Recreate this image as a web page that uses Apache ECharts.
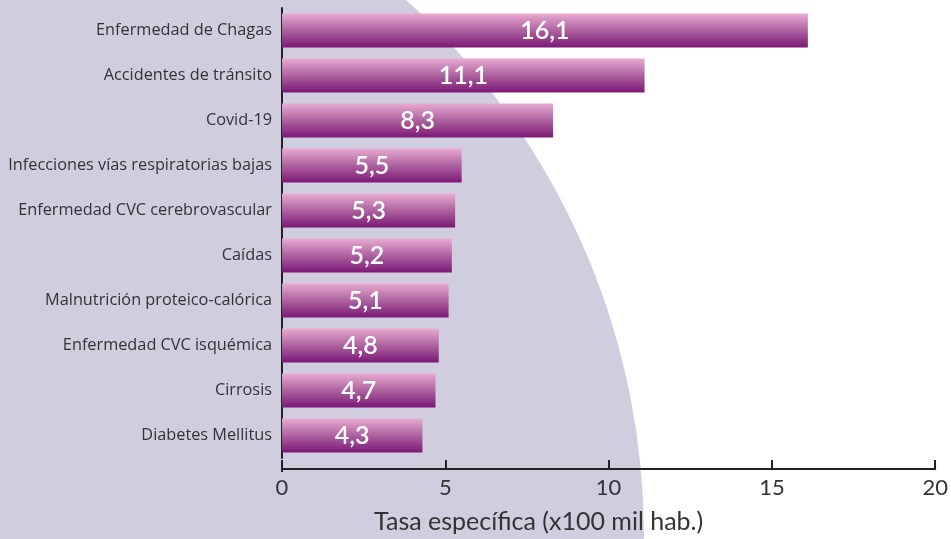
<!DOCTYPE html>
<html>
<head>
<meta charset="utf-8">
<script src="https://cdn.jsdelivr.net/npm/echarts@6/dist/echarts.min.js"></script>
<style>
  html, body { margin: 0; padding: 0; background: #fff; }
  #chart { width: 951px; height: 539px; }
</style>
</head>
<body>
<div id="chart"></div>
<script type="text/javascript">
// categorias (de arriba hacia abajo)
var causas = [
	'Enfermedad de Chagas',
	'Accidentes de tránsito',
	'Covid-19',
	'Infecciones vías respiratorias bajas',
	'Enfermedad CVC cerebrovascular',
	'Caídas',
	'Malnutrición proteico-calórica',
	'Enfermedad CVC isquémica',
	'Cirrosis',
	'Diabetes Mellitus'
];
// tasa especifica x100 mil hab.
var tasas = [16.1, 11.1, 8.3, 5.5, 5.3, 5.2, 5.1, 4.8, 4.7, 4.3];
// eje x
var ejeMin = 0;
var ejeMax = 20;
var ejeIntervalo = 5;

var myChart = echarts.init(document.getElementById('chart'));

var option = {
	textStyle: { fontFamily: 'Lato' },
	graphic: [
		// fondo: circulo gris lila a la izquierda
		{
			type: 'circle',
			z: -10,
			silent: true,
			shape: { cx: -81, cy: 537, r: 725 },
			style: { fill: '#cfcdde' }
		},
		// tramo del eje y hasta el eje x
		{
			type: 'line',
			silent: true,
			shape: { x1: 282, y1: 460, x2: 282, y2: 472 },
			style: { stroke: '#222', lineWidth: 2 }
		}
	],
	grid: {
		left: 282,
		right: 14,
		top: 8,
		bottom: 77
	},
	xAxis: {
		type: 'value',
		min: ejeMin,
		max: ejeMax,
		interval: ejeIntervalo,
		offset: 11,
		name: 'Tasa específica (x100 mil hab.)',
		nameLocation: 'middle',
		nameGap: 40,
		nameTextStyle: { fontSize: 25, color: '#333', padding: [0, 140, 0, 0] },
		axisLine: { show: true, lineStyle: { color: '#222', width: 2 } },
		axisTick: { show: true, inside: true, length: 9, lineStyle: { color: '#222', width: 2 } },
		axisLabel: { fontSize: 22, color: '#333', margin: 8 },
		splitLine: { show: false }
	},
	yAxis: {
		type: 'category',
		inverse: true,
		data: causas,
		axisLine: { show: true, lineStyle: { color: '#222', width: 2 } },
		axisTick: { show: false },
		axisLabel: { fontSize: 16.3, color: '#333', margin: 10, fontFamily: 'Open Sans' }
	},
	series: [{
		type: 'bar',
		data: tasas,
		barWidth: 34,
		itemStyle: {
			color: new echarts.graphic.LinearGradient(0, 0, 0, 1, [
				{ offset: 0, color: '#e9abd2' },
				{ offset: 0.5, color: '#ad629f' },
				{ offset: 1, color: '#7c1877' }
			])
		},
		label: {
			show: true,
			position: 'inside',
			color: '#fff',
			fontSize: 25,
			fontWeight: 600,
			formatter: function (p) {
				return String(p.value).replace('.', ',');
			}
		}
	}]
};

myChart.setOption(option);
</script>
</body>
</html>
